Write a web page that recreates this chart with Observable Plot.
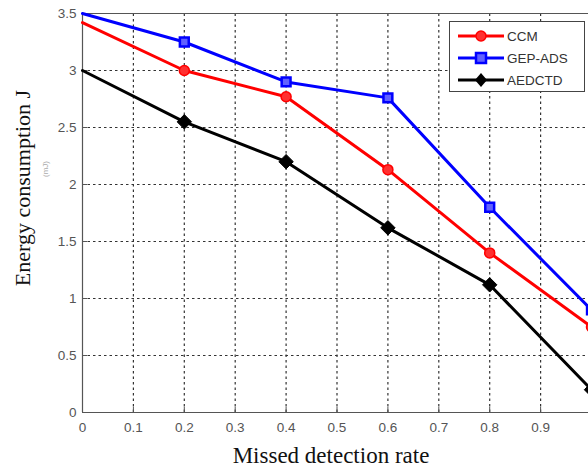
<!DOCTYPE html>
<html>
<head>
<meta charset="utf-8">
<script src="https://cdn.jsdelivr.net/npm/d3@7"></script>
<script src="https://cdn.jsdelivr.net/npm/@observablehq/plot@0.6"></script>
<style>
  body { margin: 0; background: #fff; }
  #wrap { position: relative; width: 588px; height: 476px; overflow: hidden; }
  #legend { position: absolute; left: 449px; top: 21px; width: 136px; height: 71px;
    border: 1px solid #444; background: #fff; font-family: "Liberation Sans", Arial, sans-serif;
    font-size: 13.5px; color: #333; box-sizing: border-box; }
  .row { position: absolute; left: 0; height: 20px; display: flex; align-items: center; }
  .row svg { margin-left: 8px; margin-right: 3px; }
</style>
</head>
<body>
<div id="wrap"></div>
<script>
const xRates = [0, 0.2, 0.4, 0.6, 0.8, 1.0];
const ccm    = [3.42, 3.00, 2.77, 2.13, 1.40, 0.75];
const gepAds = [3.50, 3.25, 2.90, 2.76, 1.80, 0.90];
const aedctd = [3.00, 2.55, 2.20, 1.62, 1.12, 0.20];
const seriesNames = ["CCM", "GEP-ADS", "AEDCTD"];
const xTicks = [0, 0.1, 0.2, 0.3, 0.4, 0.5, 0.6, 0.7, 0.8, 0.9];
const yTicks = [0, 0.5, 1, 1.5, 2, 2.5, 3, 3.5];

const colors = {"CCM": "#ff0000", "GEP-ADS": "#0000ff", "AEDCTD": "#000000"};
const rows = [];
[ccm, gepAds, aedctd].forEach((vals, i) => {
  vals.forEach((v, j) => rows.push({series: seriesNames[i], x: xRates[j], y: v}));
});
const markerRows = rows.filter(d => d.x > 0);

const gridX = [...xTicks.filter(t => t > 0), 1.0];
const gridY = yTicks.filter(t => t > 0 && t < 3.5);

const chart = Plot.plot({
  width: 588,
  height: 476,
  marginLeft: 82,
  marginRight: -3,
  marginTop: 13,
  marginBottom: 64,
  x: {type: "linear", domain: [0, 1], range: [82, 591]},
  y: {type: "linear", domain: [0, 3.5], range: [412, 13]},
  style: {background: "#fff", overflow: "hidden"},
  marks: [
    Plot.ruleX(gridX, {y1: 0, y2: 3.5, stroke: "#333", strokeWidth: 1.2, strokeDasharray: "2.5,3"}),
    Plot.ruleY(gridY, {x1: 0, x2: 1, stroke: "#333", strokeWidth: 1.2, strokeDasharray: "2.5,3"}),
    Plot.ruleX(xTicks.filter(t => t > 0), {y1: 0, y2: 0.045, stroke: "#555", strokeWidth: 1}),
    Plot.ruleY(yTicks.filter(t => t > 0 && t < 3.5), {x1: 0, x2: 0.01, stroke: "#555", strokeWidth: 1}),
    Plot.ruleY([3.5], {x1: 0, x2: 1, stroke: "#555", strokeWidth: 1}),
    Plot.ruleY([0], {x1: 0, x2: 1, stroke: "#555", strokeWidth: 1.2}),
    Plot.ruleX([0], {y1: 0, y2: 3.5, stroke: "#555", strokeWidth: 1.2}),
    Plot.axisX(xTicks, {tickSize: 0, tickPadding: 10, fontSize: 13.5, fill: "#555",
      fontFamily: "Liberation Sans, Arial, sans-serif", label: null, tickFormat: d => String(d)}),
    Plot.axisY(yTicks, {tickSize: 0, tickPadding: 6, fontSize: 13.5, fill: "#555",
      fontFamily: "Liberation Sans, Arial, sans-serif", label: null, tickFormat: d => String(d)}),
    Plot.line(rows, {x: "x", y: "y", z: "series", stroke: d => colors[d.series], strokeWidth: 3}),
    Plot.dot(markerRows.filter(d => d.series === "CCM"), {x: "x", y: "y", r: 5, fill: "#ff3030", stroke: "#ff0000", strokeWidth: 1.5}),
    Plot.dot(markerRows.filter(d => d.series === "GEP-ADS"), {x: "x", y: "y", symbol: "square", r: 5, fill: "#6060ff", stroke: "#0000ff", strokeWidth: 2.5}),
    Plot.dot(markerRows.filter(d => d.series === "AEDCTD"), {x: "x", y: "y", symbol: "diamond2", r: 6.5, fill: "#000", stroke: "#000", strokeWidth: 1}),
    Plot.text(["Energy consumption J"], {frameAnchor: "left", textAnchor: "middle", dx: -60, dy: -25, rotate: -90,
      fontFamily: "Liberation Serif, Times New Roman, serif", fontSize: 22, fill: "#111"}),
    Plot.text(["(mJ)"], {frameAnchor: "left", textAnchor: "middle", dx: -37, dy: -44, rotate: -90,
      fontFamily: "Liberation Sans, Arial, sans-serif", fontSize: 8, fill: "#aaa"}),
    Plot.text(["Missed detection rate"], {frameAnchor: "bottom", dx: -6, dy: 50,
      fontFamily: "Liberation Serif, Times New Roman, serif", fontSize: 23, fill: "#111"})
  ]
});
document.getElementById("wrap").appendChild(chart);

// legend
const legend = document.createElement("div");
legend.id = "legend";
const markerSvg = {
  "CCM": '<circle cx="23" cy="6" r="5" fill="#ff3030" stroke="#ff0000" stroke-width="1.5"/>',
  "GEP-ADS": '<rect x="18" y="1" width="10" height="10" fill="#6060ff" stroke="#0000ff" stroke-width="2.5"/>',
  "AEDCTD": '<path d="M23 -1 L29 6 L23 13 L17 6 Z" fill="#000"/>'
};
seriesNames.forEach((name, i) => {
  const row = document.createElement("div");
  row.className = "row";
  row.style.top = (4 + i * 22) + "px";
  row.innerHTML = `<svg width="46" height="12" style="overflow:visible"><line x1="0" y1="6" x2="46" y2="6" stroke="${colors[name]}" stroke-width="3"/>${markerSvg[name]}</svg><span>${name}</span>`;
  legend.appendChild(row);
});
document.getElementById("wrap").appendChild(legend);
</script>
</body>
</html>
